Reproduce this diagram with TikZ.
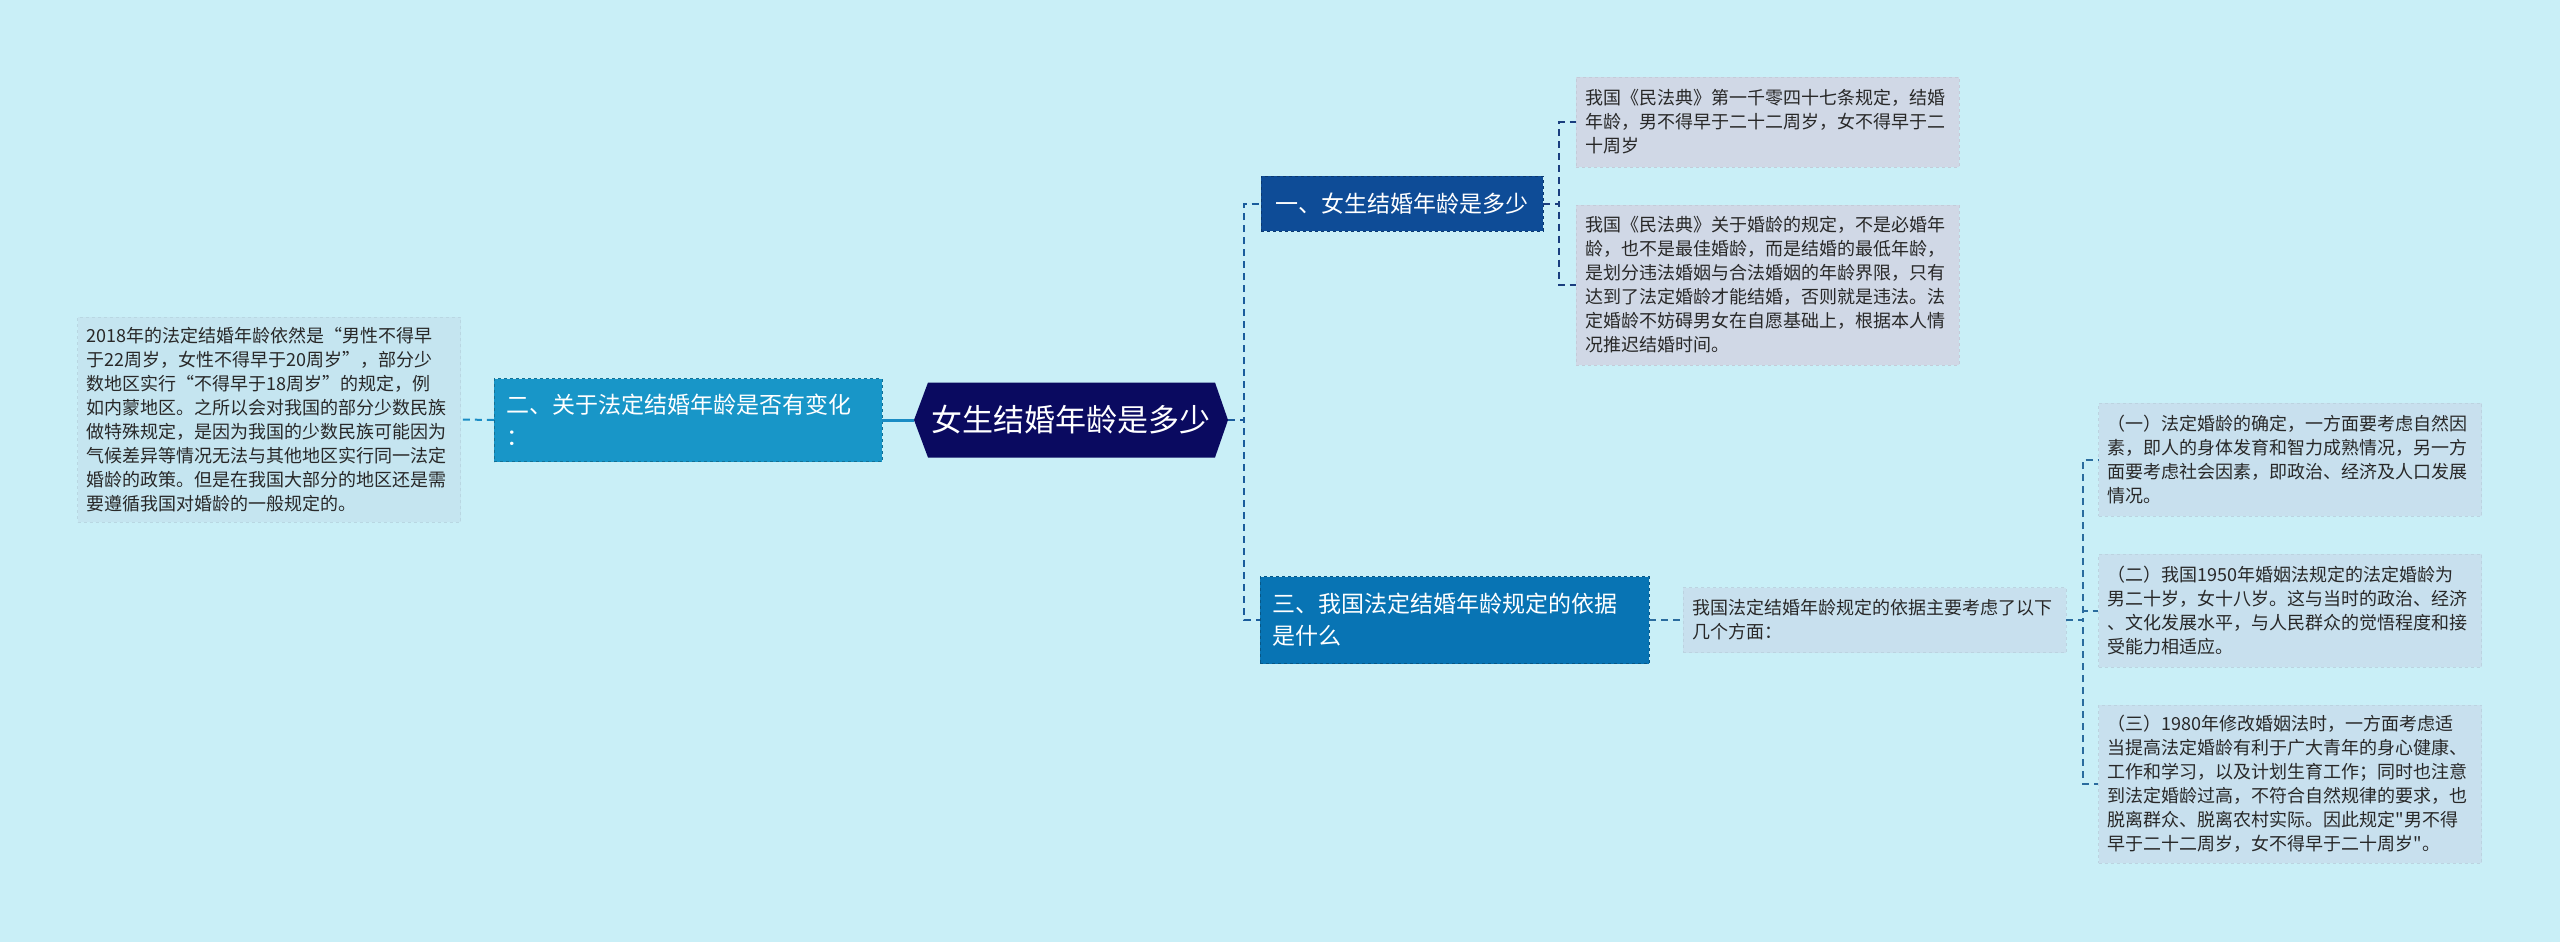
\documentclass[tikz,border=0pt]{standalone}
\usepackage{fontspec}
\newfontfamily\cjk{Noto Sans CJK SC}
\usepackage{tikz}
\usetikzlibrary{calc}

\definecolor{bgc}{RGB}{201,239,247}
\definecolor{rootc}{RGB}{10,10,96}
\definecolor{secone}{RGB}{14,76,151}
\definecolor{sectwo}{RGB}{24,150,200}
\definecolor{secthree}{RGB}{8,116,180}
\definecolor{leafone}{RGB}{208,216,230}
\definecolor{leaftwo}{RGB}{197,229,240}
\definecolor{leafthree}{RGB}{200,224,238}
\definecolor{txt}{RGB}{40,40,40}
\definecolor{trunkc}{RGB}{26,92,156}
\definecolor{onec}{RGB}{26,62,126}
\definecolor{twoc}{RGB}{26,140,196}
\definecolor{threec}{RGB}{42,108,158}

\begin{document}
\begin{tikzpicture}[x=1pt, y=-1pt,
  root/.style={font=\cjk\fontsize{31}{36}\selectfont, text=white, minimum width=314pt, minimum height=75pt, inner sep=0pt},
  topic/.style={draw=#1!75!black, dashed, fill=#1, text=white, font=\cjk\fontsize{23}{32}\selectfont, inner xsep=12pt, inner ysep=0pt, align=left},
  leaf/.style={fill=#1, draw=#1!94!black, dashed, text=txt, font=\cjk\fontsize{18}{24}\selectfont, text width=365pt, inner xsep=9pt, inner ysep=0pt, align=left},
  link/.style={line width=2pt, dash pattern=on 7pt off 5pt}
]
  \useasboundingbox (0,0) rectangle (2560,942);
  \fill[bgc] (0,0) rectangle (2560,942);

  % central topic
  \coordinate (c) at (1071,420);
  \fill[rootc] ($(c)+(-157,0)$) -- ($(c)+(-143,-37.5)$) -- ($(c)+(144,-37.5)$)
    -- ($(c)+(157,0)$) -- ($(c)+(144,37.5)$) -- ($(c)+(-143,37.5)$) -- cycle;
  \node[root] (root) at (c) {女生结婚年龄是多少};

  % main branches
  \node[topic=secone, minimum width=282pt, minimum height=55pt, align=center] (sec1) at (1402,203.5) {一、女生结婚年龄是多少};
  \node[topic=sectwo, text width=364pt, minimum height=83pt] (sec2) at (688,420) {二、关于法定结婚年龄是否有变化\\：};
  \node[topic=secthree, text width=365pt, minimum height=87pt] (sec3) at (1454.5,620) {三、我国法定结婚年龄规定的依据\\是什么};

  % leaves
  \node[leaf=leafone, minimum height=90pt] (leaf11) at (1767.5,122) {我国《民法典》第一千零四十七条规定，结婚\\年龄，男不得早于二十二周岁，女不得早于二\\十周岁};
  \node[leaf=leafone, minimum height=160pt] (leaf12) at (1767.5,285) {我国《民法典》关于婚龄的规定，不是必婚年\\龄，也不是最佳婚龄，而是结婚的最低年龄，\\是划分违法婚姻与合法婚姻的年龄界限，只有\\达到了法定婚龄才能结婚，否则就是违法。法\\定婚龄不妨碍男女在自愿基础上，根据本人情\\况推迟结婚时间。};
  \node[leaf=leaftwo, minimum height=205pt] (leaf2) at (269,419.5) {2018年的法定结婚年龄依然是“男性不得早\\于22周岁，女性不得早于20周岁”，部分少\\数地区实行“不得早于18周岁”的规定，例\\如内蒙地区。之所以会对我国的部分少数民族\\做特殊规定，是因为我国的少数民族可能因为\\气候差异等情况无法与其他地区实行同一法定\\婚龄的政策。但是在我国大部分的地区还是需\\要遵循我国对婚龄的一般规定的。};
  \node[leaf=leafthree, minimum height=65pt] (leaf3) at (1874.5,620) {我国法定结婚年龄规定的依据主要考虑了以下\\几个方面：};
  \node[leaf=leafthree, minimum height=113pt] (sub1) at (2290,459.5) {（一）法定婚龄的确定，一方面要考虑自然因\\素，即人的身体发育和智力成熟情况，另一方\\面要考虑社会因素，即政治、经济及人口发展\\情况。};
  \node[leaf=leafthree, minimum height=113pt] (sub2) at (2290,610.5) {（二）我国1950年婚姻法规定的法定婚龄为\\男二十岁，女十八岁。这与当时的政治、经济\\、文化发展水平，与人民群众的觉悟程度和接\\受能力相适应。};
  \node[leaf=leafthree, minimum height=158pt] (sub3) at (2290,784) {（三）1980年修改婚姻法时，一方面考虑适\\当提高法定婚龄有利于广大青年的身心健康、\\工作和学习，以及计划生育工作；同时也注意\\到法定婚龄过高，不符合自然规律的要求，也\\脱离群众、脱离农村实际。因此规定"男不得\\早于二十二周岁，女不得早于二十周岁"。};

  % connectors
  \draw[line width=3pt, twoc] (root.west) -- (sec2.east);
  \draw[link, twoc] (sec2.west) -- (leaf2.east);
  \draw[link, trunkc] (root.east) -- ++(16,0) |- (sec1.west);
  \draw[link, trunkc] (root.east) -- ++(16,0) |- (sec3.west);
  \draw[link, onec] (sec1.east) -- ++(16,0) |- (leaf11.west);
  \draw[link, onec] (sec1.east) -- ++(16,0) |- (leaf12.west);
  \draw[link, threec] (sec3.east) -- (leaf3.west);
  \draw[link, threec] (leaf3.east) -- ++(17,0) |- (sub1.west);
  \draw[link, threec] (leaf3.east) -- ++(17,0) |- (sub2.west);
  \draw[link, threec] (leaf3.east) -- ++(17,0) |- (sub3.west);
\end{tikzpicture}
\end{document}
